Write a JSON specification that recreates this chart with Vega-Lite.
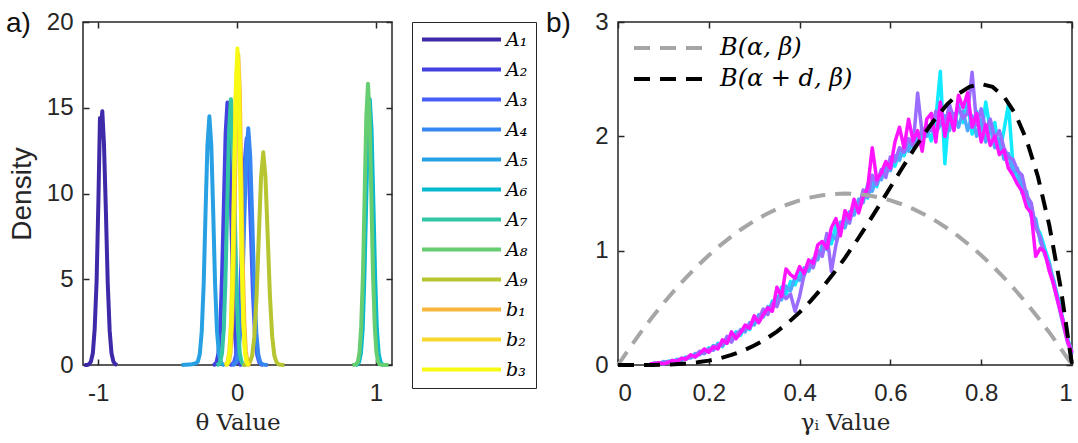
{
"$schema": "https://vega.github.io/schema/vega-lite/v6.json",
"padding": {"left": 5, "top": 9, "right": 7, "bottom": 0},
"bounds": "flush",
"spacing": 226,
"resolve": {"scale": {"color": "independent", "strokeDash": "independent", "stroke": "independent"}},
"config": {
  "view": {"stroke": "#262626", "strokeWidth": 1.5},
  "axis": {"grid": false, "domain": false, "tickSize": 6, "offset": -6, "tickWidth": 1.5, "tickColor": "#262626", "labelColor": "#262626", "labelFont": "Liberation Sans", "labelFontSize": 24, "titleFont": "Liberation Sans", "titleFontWeight": "normal", "titleColor": "#262626"},
  "axisX": {"labelPadding": 16, "titleFont": "DejaVu Serif", "titleFontSize": 23, "titlePadding": 6},
  "axisY": {"labelPadding": 10, "titleFontSize": 28, "titlePadding": 10},
  "title": {"font": "Liberation Sans", "fontSize": 28, "fontWeight": "normal", "color": "#111111", "anchor": "start", "frame": "group", "baseline": "alphabetic", "offset": 0}
},
"datasets": {
"thA": [
{"s":"A₁","x":-1.1,"y":0},{"s":"A₁","x":-1.08,"y":0},{"s":"A₁","x":-1.066,"y":0.05},{"s":"A₁","x":-1.053,"y":0.2},{"s":"A₁","x":-1.039,"y":0.7},{"s":"A₁","x":-1.026,"y":2.1},{"s":"A₁","x":-1.012,"y":4.9},{"s":"A₁","x":-0.999,"y":9.6},{"s":"A₁","x":-0.988,"y":14.4},{"s":"A₁","x":-0.98,"y":13.9},{"s":"A₁","x":-0.971,"y":14.8},{"s":"A₁","x":-0.959,"y":12.9},{"s":"A₁","x":-0.945,"y":8.9},{"s":"A₁","x":-0.932,"y":4.8},{"s":"A₁","x":-0.918,"y":2.0},{"s":"A₁","x":-0.905,"y":0.7},{"s":"A₁","x":-0.891,"y":0.2},{"s":"A₁","x":-0.878,"y":0.05},{"s":"A₁","x":-0.864,"y":0},
{"s":"A₂","x":-0.174,"y":0},{"s":"A₂","x":-0.161,"y":0.03},{"s":"A₂","x":-0.148,"y":0.17},{"s":"A₂","x":-0.135,"y":0.67},{"s":"A₂","x":-0.122,"y":2.07},{"s":"A₂","x":-0.109,"y":5.2},{"s":"A₂","x":-0.096,"y":9.28},{"s":"A₂","x":-0.083,"y":13.5},{"s":"A₂","x":-0.07,"y":15.3},{"s":"A₂","x":-0.057,"y":13.5},{"s":"A₂","x":-0.044,"y":9.28},{"s":"A₂","x":-0.031,"y":4.8},{"s":"A₂","x":-0.018,"y":2.07},{"s":"A₂","x":-0.005,"y":0.67},{"s":"A₂","x":0.008,"y":0.17},{"s":"A₂","x":0.021,"y":0.03},{"s":"A₂","x":0.034,"y":0},
{"s":"A₃","x":-0.053,"y":0},{"s":"A₃","x":-0.038,"y":0.03},{"s":"A₃","x":-0.023,"y":0.15},{"s":"A₃","x":-0.008,"y":0.58},{"s":"A₃","x":0.008,"y":1.79},{"s":"A₃","x":0.023,"y":4.29},{"s":"A₃","x":0.038,"y":8.01},{"s":"A₃","x":0.053,"y":11.65},{"s":"A₃","x":0.068,"y":13.2},{"s":"A₃","x":0.083,"y":11.65},{"s":"A₃","x":0.098,"y":8.01},{"s":"A₃","x":0.113,"y":4.29},{"s":"A₃","x":0.128,"y":1.79},{"s":"A₃","x":0.144,"y":0.58},{"s":"A₃","x":0.159,"y":0.15},{"s":"A₃","x":0.174,"y":0.03},{"s":"A₃","x":0.189,"y":0},
{"s":"A₄","x":-0.036,"y":0},{"s":"A₄","x":-0.021,"y":0.03},{"s":"A₄","x":-0.007,"y":0.15},{"s":"A₄","x":0.008,"y":0.61},{"s":"A₄","x":0.022,"y":1.87},{"s":"A₄","x":0.037,"y":4.48},{"s":"A₄","x":0.051,"y":8.37},{"s":"A₄","x":0.066,"y":12.18},{"s":"A₄","x":0.08,"y":13.8},{"s":"A₄","x":0.094,"y":12.18},{"s":"A₄","x":0.109,"y":8.37},{"s":"A₄","x":0.123,"y":4.48},{"s":"A₄","x":0.138,"y":1.87},{"s":"A₄","x":0.152,"y":0.61},{"s":"A₄","x":0.167,"y":0.15},{"s":"A₄","x":0.181,"y":0.05},{"s":"A₄","x":0.196,"y":0.02},{"s":"A₄","x":0.22,"y":0},
{"s":"A₅","x":-0.4,"y":0},{"s":"A₅","x":-0.37,"y":0.02},{"s":"A₅","x":-0.325,"y":0.05},{"s":"A₅","x":-0.31,"y":0.08},{"s":"A₅","x":-0.296,"y":0.1},{"s":"A₅","x":-0.283,"y":0.2},{"s":"A₅","x":-0.269,"y":0.64},{"s":"A₅","x":-0.255,"y":1.96},{"s":"A₅","x":-0.241,"y":4.71},{"s":"A₅","x":-0.228,"y":8.79},{"s":"A₅","x":-0.214,"y":12.8},{"s":"A₅","x":-0.2,"y":14.5},{"s":"A₅","x":-0.186,"y":12.8},{"s":"A₅","x":-0.172,"y":8.79},{"s":"A₅","x":-0.159,"y":4.71},{"s":"A₅","x":-0.145,"y":1.96},{"s":"A₅","x":-0.131,"y":0.64},{"s":"A₅","x":-0.117,"y":0.16},{"s":"A₅","x":-0.104,"y":0.03},{"s":"A₅","x":-0.09,"y":0},
{"s":"A₆","x":0.852,"y":0},{"s":"A₆","x":0.865,"y":0.03},{"s":"A₆","x":0.878,"y":0.17},{"s":"A₆","x":0.891,"y":0.68},{"s":"A₆","x":0.904,"y":2.1},{"s":"A₆","x":0.916,"y":5.03},{"s":"A₆","x":0.929,"y":9.4},{"s":"A₆","x":0.942,"y":13.68},{"s":"A₆","x":0.955,"y":15.5},{"s":"A₆","x":0.968,"y":13.68},{"s":"A₆","x":0.981,"y":9.4},{"s":"A₆","x":0.994,"y":5.03},{"s":"A₆","x":1.006,"y":2.1},{"s":"A₆","x":1.019,"y":0.68},{"s":"A₆","x":1.032,"y":0.17},{"s":"A₆","x":1.045,"y":0.03},{"s":"A₆","x":1.058,"y":0},
{"s":"A₇","x":-0.148,"y":0},{"s":"A₇","x":-0.135,"y":0.03},{"s":"A₇","x":-0.122,"y":0.17},{"s":"A₇","x":-0.109,"y":0.68},{"s":"A₇","x":-0.096,"y":2.1},{"s":"A₇","x":-0.084,"y":5.03},{"s":"A₇","x":-0.071,"y":9.4},{"s":"A₇","x":-0.058,"y":13.68},{"s":"A₇","x":-0.045,"y":15.5},{"s":"A₇","x":-0.032,"y":13.68},{"s":"A₇","x":-0.019,"y":9.4},{"s":"A₇","x":-0.006,"y":5.03},{"s":"A₇","x":0.006,"y":2.1},{"s":"A₇","x":0.019,"y":0.68},{"s":"A₇","x":0.032,"y":0.17},{"s":"A₇","x":0.045,"y":0.03},{"s":"A₇","x":0.058,"y":0},
{"s":"A₈","x":0.83,"y":0},{"s":"A₈","x":0.845,"y":0.02},{"s":"A₈","x":0.857,"y":0.04},{"s":"A₈","x":0.869,"y":0.18},{"s":"A₈","x":0.881,"y":0.72},{"s":"A₈","x":0.893,"y":2.22},{"s":"A₈","x":0.906,"y":5.33},{"s":"A₈","x":0.918,"y":9.95},{"s":"A₈","x":0.93,"y":14.47},{"s":"A₈","x":0.942,"y":16.4},{"s":"A₈","x":0.954,"y":14.47},{"s":"A₈","x":0.966,"y":9.95},{"s":"A₈","x":0.978,"y":5.33},{"s":"A₈","x":0.991,"y":2.22},{"s":"A₈","x":1.003,"y":0.72},{"s":"A₈","x":1.015,"y":0.18},{"s":"A₈","x":1.027,"y":0.04},{"s":"A₈","x":1.039,"y":0.02},{"s":"A₈","x":1.09,"y":0},
{"s":"A₉","x":0.04,"y":0},{"s":"A₉","x":0.059,"y":0.01},{"s":"A₉","x":0.075,"y":0.03},{"s":"A₉","x":0.091,"y":0.14},{"s":"A₉","x":0.108,"y":0.54},{"s":"A₉","x":0.124,"y":1.68},{"s":"A₉","x":0.14,"y":4.03},{"s":"A₉","x":0.156,"y":7.52},{"s":"A₉","x":0.172,"y":10.94},{"s":"A₉","x":0.188,"y":12.4},{"s":"A₉","x":0.204,"y":10.94},{"s":"A₉","x":0.22,"y":7.52},{"s":"A₉","x":0.236,"y":4.03},{"s":"A₉","x":0.252,"y":1.68},{"s":"A₉","x":0.268,"y":0.54},{"s":"A₉","x":0.285,"y":0.14},{"s":"A₉","x":0.301,"y":0.03},{"s":"A₉","x":0.317,"y":0.01},{"s":"A₉","x":0.34,"y":0}
],
"thb": [
{"s":"b₁","x":-0.081,"y":0},{"s":"b₁","x":-0.07,"y":0.04},{"s":"b₁","x":-0.058,"y":0.2},{"s":"b₁","x":-0.047,"y":0.79},{"s":"b₁","x":-0.036,"y":2.45},{"s":"b₁","x":-0.025,"y":5.88},{"s":"b₁","x":-0.014,"y":10.98},{"s":"b₁","x":-0.003,"y":15.97},{"s":"b₁","x":0.008,"y":18.1},{"s":"b₁","x":0.019,"y":15.97},{"s":"b₁","x":0.03,"y":10.98},{"s":"b₁","x":0.041,"y":5.88},{"s":"b₁","x":0.052,"y":2.45},{"s":"b₁","x":0.063,"y":0.79},{"s":"b₁","x":0.074,"y":0.2},{"s":"b₁","x":0.086,"y":0.04},{"s":"b₁","x":0.097,"y":0},
{"s":"b₂","x":-0.091,"y":0},{"s":"b₂","x":-0.079,"y":0.04},{"s":"b₂","x":-0.068,"y":0.2},{"s":"b₂","x":-0.057,"y":0.77},{"s":"b₂","x":-0.045,"y":2.38},{"s":"b₂","x":-0.034,"y":5.71},{"s":"b₂","x":-0.023,"y":10.67},{"s":"b₂","x":-0.011,"y":15.53},{"s":"b₂","x":0,"y":17.6},{"s":"b₂","x":0.011,"y":15.53},{"s":"b₂","x":0.023,"y":10.67},{"s":"b₂","x":0.034,"y":5.71},{"s":"b₂","x":0.045,"y":2.38},{"s":"b₂","x":0.057,"y":0.77},{"s":"b₂","x":0.068,"y":0.2},{"s":"b₂","x":0.079,"y":0.04},{"s":"b₂","x":0.091,"y":0},
{"s":"b₃","x":-0.084,"y":0},{"s":"b₃","x":-0.074,"y":0.04},{"s":"b₃","x":-0.063,"y":0.2},{"s":"b₃","x":-0.052,"y":0.81},{"s":"b₃","x":-0.041,"y":2.5},{"s":"b₃","x":-0.03,"y":5.99},{"s":"b₃","x":-0.02,"y":11.19},{"s":"b₃","x":-0.009,"y":16.28},{"s":"b₃","x":0.002,"y":18.45},{"s":"b₃","x":0.013,"y":16.28},{"s":"b₃","x":0.024,"y":11.19},{"s":"b₃","x":0.034,"y":5.99},{"s":"b₃","x":0.045,"y":2.5},{"s":"b₃","x":0.056,"y":0.81},{"s":"b₃","x":0.067,"y":0.2},{"s":"b₃","x":0.078,"y":0.04},{"s":"b₃","x":0.088,"y":0}
],
"gam": [
{"s":"c1","x":0.07,"y":0},{"s":"c1","x":0.08,"y":0.01},{"s":"c1","x":0.09,"y":0.02},{"s":"c1","x":0.1,"y":0.01},{"s":"c1","x":0.11,"y":0.03},{"s":"c1","x":0.12,"y":0.04},{"s":"c1","x":0.13,"y":0.03},{"s":"c1","x":0.14,"y":0.06},{"s":"c1","x":0.15,"y":0.05},{"s":"c1","x":0.16,"y":0.08},{"s":"c1","x":0.17,"y":0.07},{"s":"c1","x":0.18,"y":0.11},{"s":"c1","x":0.19,"y":0.1},{"s":"c1","x":0.2,"y":0.15},{"s":"c1","x":0.21,"y":0.13},{"s":"c1","x":0.22,"y":0.19},{"s":"c1","x":0.23,"y":0.16},{"s":"c1","x":0.24,"y":0.23},{"s":"c1","x":0.25,"y":0.21},{"s":"c1","x":0.26,"y":0.29},{"s":"c1","x":0.27,"y":0.26},{"s":"c1","x":0.28,"y":0.34},{"s":"c1","x":0.29,"y":0.31},{"s":"c1","x":0.3,"y":0.41},{"s":"c1","x":0.31,"y":0.38},{"s":"c1","x":0.32,"y":0.47},{"s":"c1","x":0.33,"y":0.45},{"s":"c1","x":0.34,"y":0.56},{"s":"c1","x":0.35,"y":0.52},{"s":"c1","x":0.36,"y":0.68},{"s":"c1","x":0.37,"y":0.61},{"s":"c1","x":0.38,"y":0.73},{"s":"c1","x":0.39,"y":0.7},{"s":"c1","x":0.4,"y":0.81},{"s":"c1","x":0.41,"y":0.78},{"s":"c1","x":0.42,"y":0.9},{"s":"c1","x":0.43,"y":0.87},{"s":"c1","x":0.44,"y":0.99},{"s":"c1","x":0.45,"y":0.97},{"s":"c1","x":0.46,"y":1.1},{"s":"c1","x":0.47,"y":1.06},{"s":"c1","x":0.48,"y":1.22},{"s":"c1","x":0.49,"y":1.16},{"s":"c1","x":0.5,"y":1.31},{"s":"c1","x":0.51,"y":1.26},{"s":"c1","x":0.52,"y":1.4},{"s":"c1","x":0.53,"y":1.36},{"s":"c1","x":0.54,"y":1.5},{"s":"c1","x":0.55,"y":1.46},{"s":"c1","x":0.56,"y":1.6},{"s":"c1","x":0.57,"y":1.56},{"s":"c1","x":0.58,"y":1.7},{"s":"c1","x":0.59,"y":1.66},{"s":"c1","x":0.6,"y":1.79},{"s":"c1","x":0.61,"y":1.74},{"s":"c1","x":0.62,"y":1.86},{"s":"c1","x":0.63,"y":1.83},{"s":"c1","x":0.64,"y":1.95},{"s":"c1","x":0.65,"y":1.9},{"s":"c1","x":0.66,"y":2.03},{"s":"c1","x":0.67,"y":1.98},{"s":"c1","x":0.68,"y":2.08},{"s":"c1","x":0.69,"y":1.96},{"s":"c1","x":0.7,"y":2.15},{"s":"c1","x":0.71,"y":2.57},{"s":"c1","x":0.72,"y":1.76},{"s":"c1","x":0.73,"y":2.25},{"s":"c1","x":0.74,"y":2.06},{"s":"c1","x":0.75,"y":2.28},{"s":"c1","x":0.76,"y":2.12},{"s":"c1","x":0.77,"y":2.3},{"s":"c1","x":0.78,"y":2.02},{"s":"c1","x":0.79,"y":2.22},{"s":"c1","x":0.8,"y":1.98},{"s":"c1","x":0.81,"y":2.3},{"s":"c1","x":0.82,"y":2.05},{"s":"c1","x":0.83,"y":2.12},{"s":"c1","x":0.84,"y":1.85},{"s":"c1","x":0.85,"y":2.05},{"s":"c1","x":0.86,"y":2.28},{"s":"c1","x":0.87,"y":1.75},{"s":"c1","x":0.88,"y":1.62},{"s":"c1","x":0.89,"y":1.6},{"s":"c1","x":0.9,"y":1.4},{"s":"c1","x":0.91,"y":1.38},{"s":"c1","x":0.92,"y":1.22},{"s":"c1","x":0.93,"y":1.15},{"s":"c1","x":0.94,"y":1.02},{"s":"c1","x":0.95,"y":0.9},{"s":"c1","x":0.96,"y":0.72},{"s":"c1","x":0.97,"y":0.58},{"s":"c1","x":0.98,"y":0.4},{"s":"c1","x":0.99,"y":0.24},{"s":"c1","x":1.0,"y":0.1},
{"s":"c2","x":0.07,"y":0.01},{"s":"c2","x":0.08,"y":0},{"s":"c2","x":0.09,"y":0.01},{"s":"c2","x":0.1,"y":0.03},{"s":"c2","x":0.11,"y":0.02},{"s":"c2","x":0.12,"y":0.03},{"s":"c2","x":0.13,"y":0.05},{"s":"c2","x":0.14,"y":0.04},{"s":"c2","x":0.15,"y":0.07},{"s":"c2","x":0.16,"y":0.06},{"s":"c2","x":0.17,"y":0.1},{"s":"c2","x":0.18,"y":0.09},{"s":"c2","x":0.19,"y":0.13},{"s":"c2","x":0.2,"y":0.12},{"s":"c2","x":0.21,"y":0.17},{"s":"c2","x":0.22,"y":0.15},{"s":"c2","x":0.23,"y":0.21},{"s":"c2","x":0.24,"y":0.19},{"s":"c2","x":0.25,"y":0.26},{"s":"c2","x":0.26,"y":0.24},{"s":"c2","x":0.27,"y":0.31},{"s":"c2","x":0.28,"y":0.29},{"s":"c2","x":0.29,"y":0.37},{"s":"c2","x":0.3,"y":0.35},{"s":"c2","x":0.31,"y":0.44},{"s":"c2","x":0.32,"y":0.42},{"s":"c2","x":0.33,"y":0.51},{"s":"c2","x":0.34,"y":0.49},{"s":"c2","x":0.35,"y":0.6},{"s":"c2","x":0.36,"y":0.57},{"s":"c2","x":0.37,"y":0.69},{"s":"c2","x":0.38,"y":0.65},{"s":"c2","x":0.39,"y":0.77},{"s":"c2","x":0.4,"y":0.74},{"s":"c2","x":0.41,"y":0.85},{"s":"c2","x":0.42,"y":0.82},{"s":"c2","x":0.43,"y":0.93},{"s":"c2","x":0.44,"y":0.92},{"s":"c2","x":0.45,"y":1.05},{"s":"c2","x":0.46,"y":1.01},{"s":"c2","x":0.47,"y":1.14},{"s":"c2","x":0.48,"y":1.1},{"s":"c2","x":0.49,"y":1.25},{"s":"c2","x":0.5,"y":1.2},{"s":"c2","x":0.51,"y":1.34},{"s":"c2","x":0.52,"y":1.31},{"s":"c2","x":0.53,"y":1.45},{"s":"c2","x":0.54,"y":1.42},{"s":"c2","x":0.55,"y":1.58},{"s":"c2","x":0.56,"y":1.52},{"s":"c2","x":0.57,"y":1.65},{"s":"c2","x":0.58,"y":1.62},{"s":"c2","x":0.59,"y":1.75},{"s":"c2","x":0.6,"y":1.7},{"s":"c2","x":0.61,"y":1.83},{"s":"c2","x":0.62,"y":1.79},{"s":"c2","x":0.63,"y":1.92},{"s":"c2","x":0.64,"y":1.87},{"s":"c2","x":0.65,"y":1.99},{"s":"c2","x":0.66,"y":1.94},{"s":"c2","x":0.67,"y":2.06},{"s":"c2","x":0.68,"y":2.0},{"s":"c2","x":0.69,"y":2.11},{"s":"c2","x":0.7,"y":2.03},{"s":"c2","x":0.71,"y":2.1},{"s":"c2","x":0.72,"y":2.18},{"s":"c2","x":0.73,"y":2.05},{"s":"c2","x":0.74,"y":2.2},{"s":"c2","x":0.75,"y":2.08},{"s":"c2","x":0.76,"y":2.22},{"s":"c2","x":0.77,"y":2.05},{"s":"c2","x":0.78,"y":2.18},{"s":"c2","x":0.79,"y":2.0},{"s":"c2","x":0.8,"y":2.15},{"s":"c2","x":0.81,"y":1.95},{"s":"c2","x":0.82,"y":2.08},{"s":"c2","x":0.83,"y":1.9},{"s":"c2","x":0.84,"y":1.98},{"s":"c2","x":0.85,"y":1.8},{"s":"c2","x":0.86,"y":1.85},{"s":"c2","x":0.87,"y":1.68},{"s":"c2","x":0.88,"y":1.72},{"s":"c2","x":0.89,"y":1.5},{"s":"c2","x":0.9,"y":1.52},{"s":"c2","x":0.91,"y":1.3},{"s":"c2","x":0.92,"y":1.28},{"s":"c2","x":0.93,"y":1.08},{"s":"c2","x":0.94,"y":0.98},{"s":"c2","x":0.95,"y":0.84},{"s":"c2","x":0.96,"y":0.74},{"s":"c2","x":0.97,"y":0.55},{"s":"c2","x":0.98,"y":0.38},{"s":"c2","x":0.99,"y":0.22},{"s":"c2","x":1.0,"y":0.12},
{"s":"c3","x":0.07,"y":0},{"s":"c3","x":0.08,"y":0.02},{"s":"c3","x":0.09,"y":0.01},{"s":"c3","x":0.1,"y":0.02},{"s":"c3","x":0.11,"y":0.03},{"s":"c3","x":0.12,"y":0.02},{"s":"c3","x":0.13,"y":0.04},{"s":"c3","x":0.14,"y":0.05},{"s":"c3","x":0.15,"y":0.06},{"s":"c3","x":0.16,"y":0.07},{"s":"c3","x":0.17,"y":0.08},{"s":"c3","x":0.18,"y":0.12},{"s":"c3","x":0.19,"y":0.1},{"s":"c3","x":0.2,"y":0.14},{"s":"c3","x":0.21,"y":0.13},{"s":"c3","x":0.22,"y":0.18},{"s":"c3","x":0.23,"y":0.17},{"s":"c3","x":0.24,"y":0.25},{"s":"c3","x":0.25,"y":0.2},{"s":"c3","x":0.26,"y":0.27},{"s":"c3","x":0.27,"y":0.3},{"s":"c3","x":0.28,"y":0.31},{"s":"c3","x":0.29,"y":0.36},{"s":"c3","x":0.3,"y":0.39},{"s":"c3","x":0.31,"y":0.4},{"s":"c3","x":0.32,"y":0.49},{"s":"c3","x":0.33,"y":0.44},{"s":"c3","x":0.34,"y":0.54},{"s":"c3","x":0.35,"y":0.51},{"s":"c3","x":0.36,"y":0.63},{"s":"c3","x":0.37,"y":0.58},{"s":"c3","x":0.38,"y":0.62},{"s":"c3","x":0.39,"y":0.47},{"s":"c3","x":0.4,"y":0.6},{"s":"c3","x":0.41,"y":0.79},{"s":"c3","x":0.42,"y":0.88},{"s":"c3","x":0.43,"y":0.85},{"s":"c3","x":0.44,"y":1.0},{"s":"c3","x":0.45,"y":0.95},{"s":"c3","x":0.46,"y":1.15},{"s":"c3","x":0.47,"y":0.82},{"s":"c3","x":0.48,"y":1.05},{"s":"c3","x":0.49,"y":1.21},{"s":"c3","x":0.5,"y":1.29},{"s":"c3","x":0.51,"y":1.24},{"s":"c3","x":0.52,"y":1.42},{"s":"c3","x":0.53,"y":1.37},{"s":"c3","x":0.54,"y":1.53},{"s":"c3","x":0.55,"y":1.47},{"s":"c3","x":0.56,"y":1.66},{"s":"c3","x":0.57,"y":1.58},{"s":"c3","x":0.58,"y":1.71},{"s":"c3","x":0.59,"y":1.64},{"s":"c3","x":0.6,"y":1.82},{"s":"c3","x":0.61,"y":1.78},{"s":"c3","x":0.62,"y":1.9},{"s":"c3","x":0.63,"y":1.86},{"s":"c3","x":0.64,"y":1.98},{"s":"c3","x":0.65,"y":1.92},{"s":"c3","x":0.66,"y":2.38},{"s":"c3","x":0.67,"y":2.02},{"s":"c3","x":0.68,"y":2.1},{"s":"c3","x":0.69,"y":2.05},{"s":"c3","x":0.7,"y":2.22},{"s":"c3","x":0.71,"y":2.12},{"s":"c3","x":0.72,"y":2.08},{"s":"c3","x":0.73,"y":2.28},{"s":"c3","x":0.74,"y":2.14},{"s":"c3","x":0.75,"y":2.25},{"s":"c3","x":0.76,"y":2.16},{"s":"c3","x":0.77,"y":2.2},{"s":"c3","x":0.78,"y":2.56},{"s":"c3","x":0.79,"y":2.1},{"s":"c3","x":0.8,"y":2.24},{"s":"c3","x":0.81,"y":2.05},{"s":"c3","x":0.82,"y":2.15},{"s":"c3","x":0.83,"y":1.98},{"s":"c3","x":0.84,"y":2.05},{"s":"c3","x":0.85,"y":1.9},{"s":"c3","x":0.86,"y":1.82},{"s":"c3","x":0.87,"y":1.8},{"s":"c3","x":0.88,"y":1.7},{"s":"c3","x":0.89,"y":1.66},{"s":"c3","x":0.9,"y":1.48},{"s":"c3","x":0.91,"y":1.42},{"s":"c3","x":0.92,"y":1.2},{"s":"c3","x":0.93,"y":1.12},{"s":"c3","x":0.94,"y":0.96},{"s":"c3","x":0.95,"y":0.88},{"s":"c3","x":0.96,"y":0.69},{"s":"c3","x":0.97,"y":0.53},{"s":"c3","x":0.98,"y":0.36},{"s":"c3","x":0.99,"y":0.2},{"s":"c3","x":1.0,"y":0.09},
{"s":"c4","x":0.07,"y":0.01},{"s":"c4","x":0.08,"y":0.01},{"s":"c4","x":0.09,"y":0.02},{"s":"c4","x":0.1,"y":0.01},{"s":"c4","x":0.11,"y":0.02},{"s":"c4","x":0.12,"y":0.04},{"s":"c4","x":0.13,"y":0.03},{"s":"c4","x":0.14,"y":0.06},{"s":"c4","x":0.15,"y":0.05},{"s":"c4","x":0.16,"y":0.09},{"s":"c4","x":0.17,"y":0.07},{"s":"c4","x":0.18,"y":0.1},{"s":"c4","x":0.19,"y":0.14},{"s":"c4","x":0.2,"y":0.11},{"s":"c4","x":0.21,"y":0.16},{"s":"c4","x":0.22,"y":0.14},{"s":"c4","x":0.23,"y":0.22},{"s":"c4","x":0.24,"y":0.19},{"s":"c4","x":0.25,"y":0.29},{"s":"c4","x":0.26,"y":0.23},{"s":"c4","x":0.27,"y":0.28},{"s":"c4","x":0.28,"y":0.35},{"s":"c4","x":0.29,"y":0.32},{"s":"c4","x":0.3,"y":0.43},{"s":"c4","x":0.31,"y":0.37},{"s":"c4","x":0.32,"y":0.44},{"s":"c4","x":0.33,"y":0.5},{"s":"c4","x":0.34,"y":0.47},{"s":"c4","x":0.35,"y":0.68},{"s":"c4","x":0.36,"y":0.6},{"s":"c4","x":0.37,"y":0.84},{"s":"c4","x":0.38,"y":0.79},{"s":"c4","x":0.39,"y":0.76},{"s":"c4","x":0.4,"y":0.86},{"s":"c4","x":0.41,"y":0.8},{"s":"c4","x":0.42,"y":0.92},{"s":"c4","x":0.43,"y":0.89},{"s":"c4","x":0.44,"y":1.05},{"s":"c4","x":0.45,"y":1.08},{"s":"c4","x":0.46,"y":1.02},{"s":"c4","x":0.47,"y":1.2},{"s":"c4","x":0.48,"y":1.28},{"s":"c4","x":0.49,"y":1.13},{"s":"c4","x":0.5,"y":1.35},{"s":"c4","x":0.51,"y":1.28},{"s":"c4","x":0.52,"y":1.45},{"s":"c4","x":0.53,"y":1.33},{"s":"c4","x":0.54,"y":1.47},{"s":"c4","x":0.55,"y":1.55},{"s":"c4","x":0.56,"y":1.9},{"s":"c4","x":0.57,"y":1.62},{"s":"c4","x":0.58,"y":1.68},{"s":"c4","x":0.59,"y":1.78},{"s":"c4","x":0.6,"y":1.72},{"s":"c4","x":0.61,"y":1.95},{"s":"c4","x":0.62,"y":2.08},{"s":"c4","x":0.63,"y":1.9},{"s":"c4","x":0.64,"y":2.15},{"s":"c4","x":0.65,"y":1.96},{"s":"c4","x":0.66,"y":2.05},{"s":"c4","x":0.67,"y":1.87},{"s":"c4","x":0.68,"y":2.15},{"s":"c4","x":0.69,"y":2.2},{"s":"c4","x":0.7,"y":1.95},{"s":"c4","x":0.71,"y":2.3},{"s":"c4","x":0.72,"y":2.0},{"s":"c4","x":0.73,"y":2.2},{"s":"c4","x":0.74,"y":2.05},{"s":"c4","x":0.75,"y":2.36},{"s":"c4","x":0.76,"y":2.25},{"s":"c4","x":0.77,"y":2.38},{"s":"c4","x":0.78,"y":2.08},{"s":"c4","x":0.79,"y":2.2},{"s":"c4","x":0.8,"y":1.95},{"s":"c4","x":0.81,"y":2.1},{"s":"c4","x":0.82,"y":1.92},{"s":"c4","x":0.83,"y":2.0},{"s":"c4","x":0.84,"y":1.84},{"s":"c4","x":0.85,"y":1.88},{"s":"c4","x":0.86,"y":1.72},{"s":"c4","x":0.87,"y":1.66},{"s":"c4","x":0.88,"y":1.58},{"s":"c4","x":0.89,"y":1.52},{"s":"c4","x":0.9,"y":1.38},{"s":"c4","x":0.91,"y":1.33},{"s":"c4","x":0.92,"y":0.95},{"s":"c4","x":0.93,"y":1.02},{"s":"c4","x":0.94,"y":0.99},{"s":"c4","x":0.95,"y":0.82},{"s":"c4","x":0.96,"y":0.7},{"s":"c4","x":0.97,"y":0.54},{"s":"c4","x":0.98,"y":0.39},{"s":"c4","x":0.99,"y":0.21},{"s":"c4","x":1.0,"y":0.11}
],
"bet": [
{"s":"B(α, β)","x":0,"y":0},{"s":"B(α, β)","x":0.025,"y":0.146},{"s":"B(α, β)","x":0.05,"y":0.285},{"s":"B(α, β)","x":0.075,"y":0.416},{"s":"B(α, β)","x":0.1,"y":0.54},{"s":"B(α, β)","x":0.125,"y":0.656},{"s":"B(α, β)","x":0.15,"y":0.765},{"s":"B(α, β)","x":0.175,"y":0.866},{"s":"B(α, β)","x":0.2,"y":0.96},{"s":"B(α, β)","x":0.225,"y":1.046},{"s":"B(α, β)","x":0.25,"y":1.125},{"s":"B(α, β)","x":0.275,"y":1.196},{"s":"B(α, β)","x":0.3,"y":1.26},{"s":"B(α, β)","x":0.325,"y":1.316},{"s":"B(α, β)","x":0.35,"y":1.365},{"s":"B(α, β)","x":0.375,"y":1.406},{"s":"B(α, β)","x":0.4,"y":1.44},{"s":"B(α, β)","x":0.425,"y":1.466},{"s":"B(α, β)","x":0.45,"y":1.485},{"s":"B(α, β)","x":0.475,"y":1.496},{"s":"B(α, β)","x":0.5,"y":1.5},{"s":"B(α, β)","x":0.525,"y":1.496},{"s":"B(α, β)","x":0.55,"y":1.485},{"s":"B(α, β)","x":0.575,"y":1.466},{"s":"B(α, β)","x":0.6,"y":1.44},{"s":"B(α, β)","x":0.625,"y":1.406},{"s":"B(α, β)","x":0.65,"y":1.365},{"s":"B(α, β)","x":0.675,"y":1.316},{"s":"B(α, β)","x":0.7,"y":1.26},{"s":"B(α, β)","x":0.725,"y":1.196},{"s":"B(α, β)","x":0.75,"y":1.125},{"s":"B(α, β)","x":0.775,"y":1.046},{"s":"B(α, β)","x":0.8,"y":0.96},{"s":"B(α, β)","x":0.825,"y":0.866},{"s":"B(α, β)","x":0.85,"y":0.765},{"s":"B(α, β)","x":0.875,"y":0.656},{"s":"B(α, β)","x":0.9,"y":0.54},{"s":"B(α, β)","x":0.925,"y":0.416},{"s":"B(α, β)","x":0.95,"y":0.285},{"s":"B(α, β)","x":0.975,"y":0.146},{"s":"B(α, β)","x":1,"y":0},
{"s":"B(α + d, β)","x":0,"y":0},{"s":"B(α + d, β)","x":0.025,"y":0},{"s":"B(α + d, β)","x":0.05,"y":0.0002},{"s":"B(α + d, β)","x":0.075,"y":0.0009},{"s":"B(α + d, β)","x":0.1,"y":0.0027},{"s":"B(α + d, β)","x":0.125,"y":0.0064},{"s":"B(α + d, β)","x":0.15,"y":0.0129},{"s":"B(α + d, β)","x":0.175,"y":0.0232},{"s":"B(α + d, β)","x":0.2,"y":0.0384},{"s":"B(α + d, β)","x":0.225,"y":0.0596},{"s":"B(α + d, β)","x":0.25,"y":0.0879},{"s":"B(α + d, β)","x":0.275,"y":0.1244},{"s":"B(α + d, β)","x":0.3,"y":0.1701},{"s":"B(α + d, β)","x":0.325,"y":0.2259},{"s":"B(α + d, β)","x":0.35,"y":0.2926},{"s":"B(α + d, β)","x":0.375,"y":0.3708},{"s":"B(α + d, β)","x":0.4,"y":0.4608},{"s":"B(α + d, β)","x":0.425,"y":0.5628},{"s":"B(α + d, β)","x":0.45,"y":0.6766},{"s":"B(α + d, β)","x":0.475,"y":0.8018},{"s":"B(α + d, β)","x":0.5,"y":0.9375},{"s":"B(α + d, β)","x":0.525,"y":1.0826},{"s":"B(α + d, β)","x":0.55,"y":1.2353},{"s":"B(α + d, β)","x":0.575,"y":1.3937},{"s":"B(α + d, β)","x":0.6,"y":1.5552},{"s":"B(α + d, β)","x":0.625,"y":1.7166},{"s":"B(α + d, β)","x":0.65,"y":1.8743},{"s":"B(α + d, β)","x":0.675,"y":2.024},{"s":"B(α + d, β)","x":0.7,"y":2.1609},{"s":"B(α + d, β)","x":0.725,"y":2.2793},{"s":"B(α + d, β)","x":0.75,"y":2.373},{"s":"B(α + d, β)","x":0.775,"y":2.4351},{"s":"B(α + d, β)","x":0.8,"y":2.4576},{"s":"B(α + d, β)","x":0.825,"y":2.4321},{"s":"B(α + d, β)","x":0.85,"y":2.349},{"s":"B(α + d, β)","x":0.875,"y":2.1982},{"s":"B(α + d, β)","x":0.9,"y":1.9683},{"s":"B(α + d, β)","x":0.925,"y":1.6472},{"s":"B(α + d, β)","x":0.95,"y":1.2218},{"s":"B(α + d, β)","x":0.975,"y":0.6778},{"s":"B(α + d, β)","x":1,"y":0}
]
},
"hconcat": [
{
  "width": 309, "height": 343,
  "title": {"text": "a)", "dx": -77, "dy": 32},
  "layer": [
    {"data": {"name": "thA"},
     "mark": {"type": "line", "strokeWidth": 4, "strokeJoin": "round"},
     "encoding": {
       "x": {"field": "x", "type": "quantitative", "scale": {"domain": [-1.11, 1.115], "nice": false, "zero": false}, "axis": {"orient": "bottom", "values": [-1, 0, 1], "title": "θ Value", "labelExpr": "datum.value < 0 ? '-' + abs(datum.value) : datum.label"}},
       "y": {"field": "y", "type": "quantitative", "scale": {"domain": [0, 20], "nice": false}, "axis": {"orient": "left", "values": [0, 5, 10, 15, 20], "title": "Density"}},
       "color": {"field": "s", "type": "nominal",
         "scale": {"domain": ["A₁","A₂","A₃","A₄","A₅","A₆","A₇","A₈","A₉","b₁","b₂","b₃"], "range": ["#3e2aa8","#4341df","#485ff7","#3787f3","#27a1e4","#06b9cf","#33c6a6","#66cd70","#b6c530","#f7b63c","#f8d72e","#f9fa14"]},
         "legend": {"title": null, "orient": "right", "offset": 19, "padding": 8, "strokeColor": "#262626", "fillColor": "white", "symbolType": "stroke", "symbolSize": 6241, "symbolStrokeWidth": 4, "clipHeight": 19, "labelFont": "DejaVu Serif", "labelFontStyle": "italic", "labelFontSize": 19, "labelColor": "#000000", "labelOffset": 3, "rowPadding": 10}}
     }},
    {"data": {"name": "thb"},
     "mark": {"type": "line", "strokeWidth": 4, "strokeJoin": "round"},
     "encoding": {
       "x": {"field": "x", "type": "quantitative", "axis": {"orient": "top", "values": [-1, 0, 1], "labels": false, "title": null}},
       "y": {"field": "y", "type": "quantitative", "axis": {"orient": "right", "values": [0, 5, 10, 15, 20], "labels": false, "title": null}},
       "color": {"field": "s", "type": "nominal"}
     }}
  ],
  "resolve": {"axis": {"x": "independent", "y": "independent"}}
},
{
  "width": 454, "height": 343,
  "title": {"text": "b)", "dx": -72, "dy": 32},
  "layer": [
    {"data": {"name": "gam"},
     "mark": {"type": "line", "strokeWidth": 3.5, "strokeJoin": "round"},
     "encoding": {
       "x": {"field": "x", "type": "quantitative", "scale": {"domain": [0, 1], "nice": false}, "axis": {"orient": "bottom", "values": [0, 0.2, 0.4, 0.6, 0.8, 1], "format": "~g", "title": "γᵢ Value"}},
       "y": {"field": "y", "type": "quantitative", "scale": {"domain": [0, 3], "nice": false}, "axis": {"orient": "left", "values": [0, 1, 2, 3], "title": null}},
       "stroke": {"field": "s", "type": "nominal", "scale": {"domain": ["c1","c2","c3","c4"], "range": ["#12eaff","#4ea8ff","#9a6cff","#ff14ff"]}, "legend": null}
     }},
    {"data": {"name": "bet"},
     "mark": {"type": "line", "strokeWidth": 4},
     "encoding": {
       "x": {"field": "x", "type": "quantitative", "axis": {"orient": "top", "values": [0, 0.2, 0.4, 0.6, 0.8, 1], "labels": false, "title": null}},
       "y": {"field": "y", "type": "quantitative", "axis": {"orient": "right", "values": [0, 1, 2, 3], "labels": false, "title": null}},
       "color": {"field": "s", "type": "nominal", "scale": {"domain": ["B(α, β)", "B(α + d, β)"], "range": ["#a6a6a6", "#000000"]},
         "legend": {"title": null, "orient": "top-left", "offset": 14, "padding": 0, "symbolType": "stroke", "symbolSize": 4624, "symbolStrokeWidth": 4, "clipHeight": 24, "labelFont": "DejaVu Serif", "labelFontStyle": "italic", "labelFontSize": 24, "labelColor": "#000000", "labelOffset": 16, "rowPadding": 7}},
       "strokeDash": {"field": "s", "type": "nominal", "scale": {"domain": ["B(α, β)", "B(α + d, β)"], "range": [[16, 10], [16, 10]]},
         "legend": {"title": null, "orient": "top-left", "offset": 14, "padding": 0, "symbolType": "stroke", "symbolSize": 4624, "symbolStrokeWidth": 4, "clipHeight": 24, "labelFont": "DejaVu Serif", "labelFontStyle": "italic", "labelFontSize": 24, "labelColor": "#000000", "labelOffset": 16, "rowPadding": 7}}
     }}
  ],
  "resolve": {"axis": {"x": "independent", "y": "independent"}}
}
]
}
